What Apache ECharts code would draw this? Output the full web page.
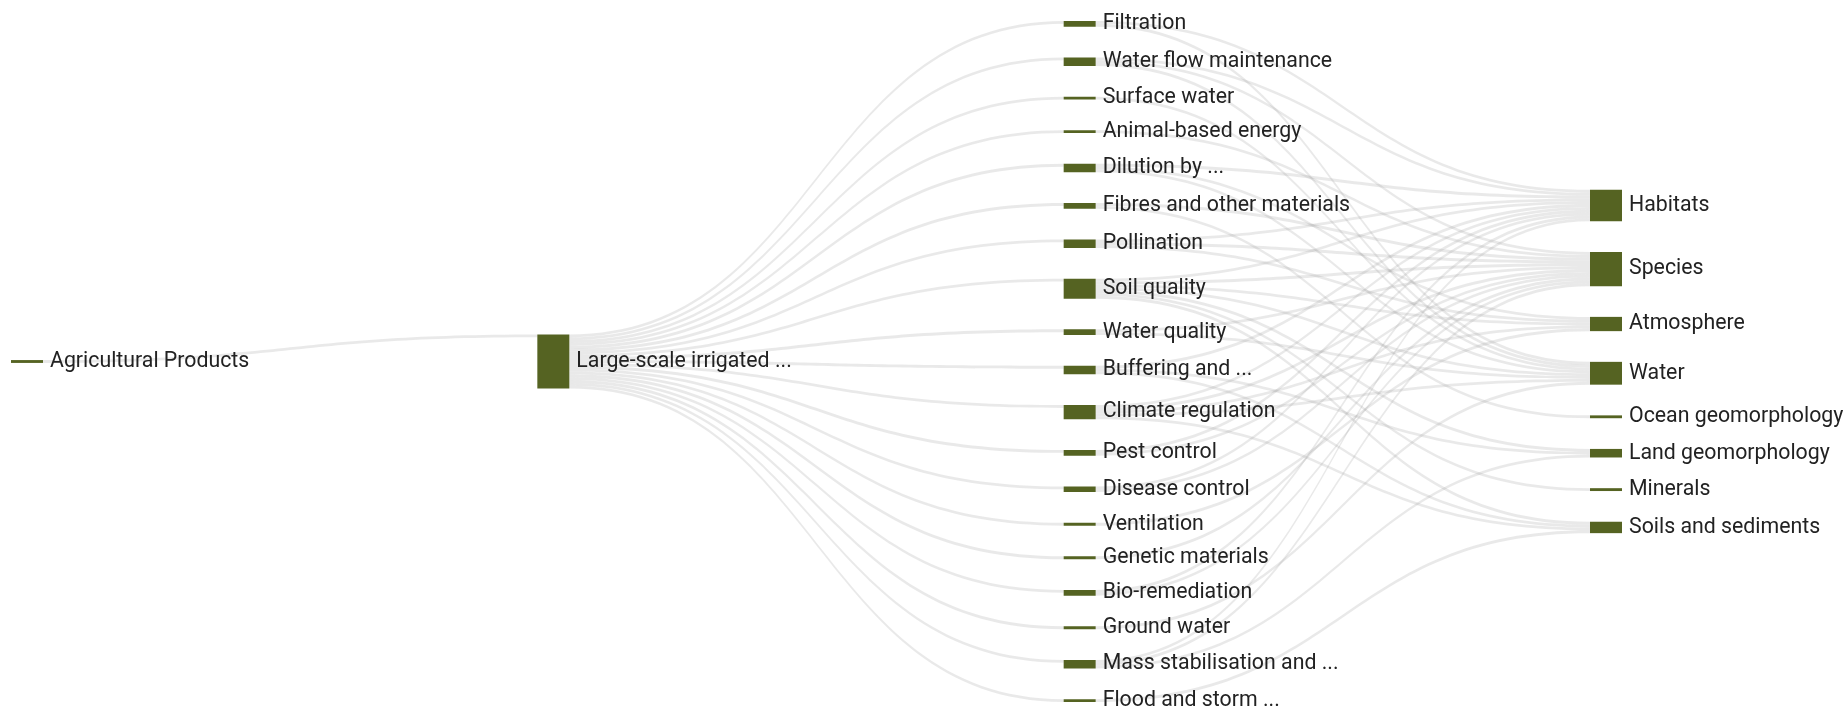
<!DOCTYPE html>
<html>
<head>
<meta charset="utf-8">
<script src="https://cdn.jsdelivr.net/npm/echarts@6/dist/echarts.min.js"></script>
<style>
html,body{margin:0;padding:0;background:#fff;}
#chart{width:1846px;height:710px;}
</style>
</head>
<body>
<div id="chart"></div>
<script>
// Column 1: product
const products = ['Agricultural Products'];
// Column 2: production process
const processes = ['Large-scale irrigated ...'];
// Column 3: ecosystem services (top to bottom)
const services = [
  'Filtration', 'Water flow maintenance', 'Surface water', 'Animal-based energy',
  'Dilution by ...', 'Fibres and other materials', 'Pollination', 'Soil quality',
  'Water quality', 'Buffering and ...', 'Climate regulation', 'Pest control',
  'Disease control', 'Ventilation', 'Genetic materials', 'Bio-remediation',
  'Ground water', 'Mass stabilisation and ...', 'Flood and storm ...'
];
// Column 4: natural capital assets
const assets = [
  'Habitats', 'Species', 'Atmosphere', 'Water', 'Ocean geomorphology',
  'Land geomorphology', 'Minerals', 'Soils and sediments'
];
// product -> process links
const productLinks = [['Agricultural Products', 'Large-scale irrigated ...', 1]];
// process -> service links (value per service)
const processServiceValues = [1,1,1,1,1,1,1,1,1,1,1,1,1,1,1,1,1,1,1];
// service -> asset links
const serviceAssetLinks = [
  ['Filtration', 'Habitats', 1],
  ['Filtration', 'Water', 1],
  ['Water flow maintenance', 'Habitats', 1],
  ['Water flow maintenance', 'Species', 1],
  ['Water flow maintenance', 'Water', 1],
  ['Surface water', 'Water', 1],
  ['Animal-based energy', 'Species', 1],
  ['Dilution by ...', 'Habitats', 1],
  ['Dilution by ...', 'Atmosphere', 1],
  ['Dilution by ...', 'Water', 1],
  ['Fibres and other materials', 'Species', 1],
  ['Fibres and other materials', 'Ocean geomorphology', 1],
  ['Pollination', 'Habitats', 1],
  ['Pollination', 'Species', 1],
  ['Pollination', 'Atmosphere', 1],
  ['Soil quality', 'Habitats', 1],
  ['Soil quality', 'Species', 1],
  ['Soil quality', 'Atmosphere', 1],
  ['Soil quality', 'Water', 1],
  ['Soil quality', 'Land geomorphology', 1],
  ['Soil quality', 'Minerals', 1],
  ['Soil quality', 'Soils and sediments', 1],
  ['Water quality', 'Species', 1],
  ['Water quality', 'Water', 1],
  ['Buffering and ...', 'Habitats', 1],
  ['Buffering and ...', 'Land geomorphology', 1],
  ['Buffering and ...', 'Soils and sediments', 1],
  ['Climate regulation', 'Habitats', 1],
  ['Climate regulation', 'Species', 1],
  ['Climate regulation', 'Atmosphere', 1],
  ['Climate regulation', 'Water', 1],
  ['Climate regulation', 'Soils and sediments', 1],
  ['Pest control', 'Habitats', 1],
  ['Pest control', 'Species', 1],
  ['Disease control', 'Habitats', 1],
  ['Disease control', 'Species', 1],
  ['Ventilation', 'Atmosphere', 1],
  ['Genetic materials', 'Species', 1],
  ['Bio-remediation', 'Habitats', 1],
  ['Bio-remediation', 'Species', 1],
  ['Ground water', 'Water', 1],
  ['Mass stabilisation and ...', 'Habitats', 1],
  ['Mass stabilisation and ...', 'Species', 1],
  ['Mass stabilisation and ...', 'Land geomorphology', 1],
  ['Flood and storm ...', 'Soils and sediments', 1]
];

const nodeNames = [].concat(products, processes, services, assets);
const links = [];
productLinks.forEach(l => links.push({source: l[0], target: l[1], value: l[2]}));
services.forEach((s, i) => links.push({source: processes[0], target: s, value: processServiceValues[i]}));
serviceAssetLinks.forEach(l => links.push({source: l[0], target: l[1], value: l[2]}));

const TOP = 21, BOTTOM = 8;
const chart = echarts.init(document.getElementById('chart'), null, {renderer: 'canvas'});
const makeOption = (data) => ({
  animation: false,
  series: [{
    type: 'sankey',
    left: 11,
    right: 224,
    top: TOP,
    bottom: BOTTOM,
    nodeWidth: 32,
    nodeGap: 30.7,
    layoutIterations: 0,
    draggable: false,
    emphasis: {disabled: true},
    data: data,
    links: links,
    itemStyle: {color: '#556322', borderWidth: 0},
    lineStyle: {color: '#9a9a9a', opacity: 0.22, curveness: 0.5},
    label: {
      show: true,
      position: 'right',
      distance: 7,
      fontFamily: 'Roboto',
      fontSize: 21.3,
      color: '#222'
    }
  }]
});
chart.setOption(makeOption(nodeNames.map(n => ({name: n}))));

// Keep the library's node order and sizes, but centre every column vertically.
try {
  const seriesModel = chart.getModel().getSeriesByIndex(0);
  const nodeData = seriesModel.getData();
  const H = chart.getHeight() - TOP - BOTTOM;
  const layouts = nodeNames.map((n, i) => nodeData.getItemLayout(i));
  const cols = {};
  layouts.forEach((l) => {
    const k = Math.round(l.x);
    if (!cols[k]) cols[k] = {min: Infinity, max: -Infinity};
    cols[k].min = Math.min(cols[k].min, l.y);
    cols[k].max = Math.max(cols[k].max, l.y + l.dy);
  });
  const centred = nodeNames.map((n, i) => {
    const l = layouts[i];
    const c = cols[Math.round(l.x)];
    const offset = (H - (c.max - c.min)) / 2 - c.min;
    return {name: n, localY: (l.y + offset) / H};
  });
  chart.setOption(makeOption(centred));
} catch (e) {
  console.error(e);
}
</script>
</body>
</html>
